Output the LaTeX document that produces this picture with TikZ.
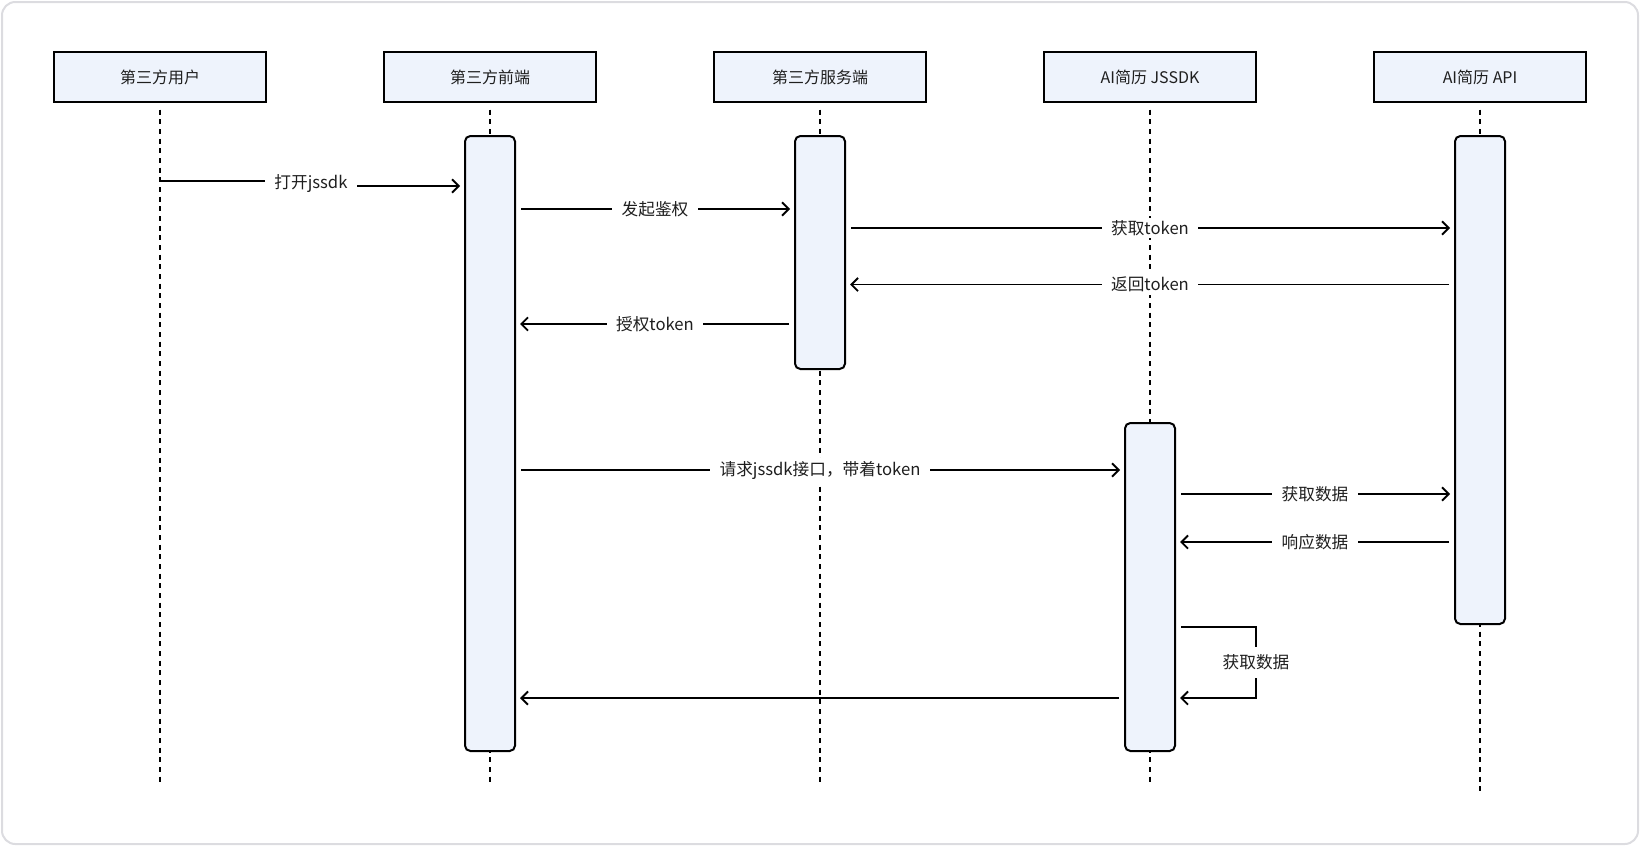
\documentclass[tikz,border=0pt]{standalone}
\usepackage{fontspec}
\setmainfont{Noto Sans CJK SC}
\usetikzlibrary{arrows.meta,calc}
\definecolor{boxfill}{HTML}{EEF3FC}
\definecolor{framec}{HTML}{DCDCE0}
\definecolor{txt}{HTML}{1F1F1F}
\begin{document}
\begin{tikzpicture}[x=0.75pt,y=-0.75pt,
  head/.style={draw=black, line width=1.5pt, fill=boxfill, minimum width=159pt, minimum height=37.5pt, inner sep=0pt, font=\fontsize{12}{14}\selectfont, text=txt},
  bar/.style={draw=black, line width=1.5pt, fill=boxfill, rounded corners=4pt, minimum width=37.5pt, inner sep=0pt},
  life/.style={line width=1.5pt, dash pattern=on 3.75pt off 3.5pt, shorten <=5pt},
  msg/.style={line width=1.45pt, -{Straight Barb[length=5pt,width=10pt]}, shorten <=3.75pt, shorten >=3pt},
  lbl/.style={fill=white, inner xsep=7pt, inner ysep=2pt, font=\fontsize{12.5}{14}\selectfont, text=txt}
]
\useasboundingbox (0,0) rectangle (1640,846);
\draw[framec, line width=1.5pt, rounded corners=10pt] (2,2) rectangle (1638,844);

% headers
\node[head] (u1) at (160,77) {第三方用户};
\node[head] (u2) at (490,77) {第三方前端};
\node[head] (u3) at (820,77) {第三方服务端};
\node[head] (u4) at (1150,77) {AI简历 JSSDK};
\node[head] (u5) at (1480,77) {AI简历 API};

% lifeline ends
\coordinate (e1) at (160,783);
\coordinate (e2) at (490,783);
\coordinate (e3) at (820,783);
\coordinate (e4) at (1150,783);
\coordinate (e5) at (1480,792);
\foreach \i in {1,...,5} {\draw[life] (u\i.south) -- (e\i);}

% activation bars
\node[bar, minimum height=461.25pt] (b2) at (490,443.5) {};
\node[bar, minimum height=174.75pt] (b3) at (820,252.5) {};
\node[bar, minimum height=246pt] (b4) at (1150,587) {};
\node[bar, minimum height=366pt] (b5) at (1480,380) {};

% y levels
\coordinate (y1a) at (0,181);
\coordinate (y1b) at (0,186);
\coordinate (y2) at (0,209);
\coordinate (y3) at (0,228);
\coordinate (y4) at (0,284.5);
\coordinate (y5) at (0,324);
\coordinate (y6) at (0,470);
\coordinate (y7) at (0,494);
\coordinate (y8) at (0,542);
\coordinate (y9) at (0,627);
\coordinate (y10) at (0,698);
\coordinate (loopx) at (1256,0);

% message 1 (with small step hidden behind label)
\draw[msg, shorten <=0pt] (u1.south |- y1a) -- (311,181) -- (311,186) -- (b2.west |- y1b);
\node[lbl] (l1) at (311,184) {打开jssdk};

\draw[msg] (b2.east |- y2) -- node[lbl] {发起鉴权} (b3.west |- y2);
\draw[msg] (b3.east |- y3) -- node[lbl] {获取token} (b5.west |- y3);
\draw[msg] (b5.west |- y4) -- node[lbl] {返回token} (b3.east |- y4);
\draw[msg] (b3.west |- y5) -- node[lbl] {授权token} (b2.east |- y5);
\draw[msg] (b2.east |- y6) -- node[lbl] {请求jssdk接口，带着token} (b4.west |- y6);
\draw[msg] (b4.east |- y7) -- node[lbl] {获取数据} (b5.west |- y7);
\draw[msg] (b5.west |- y8) -- node[lbl] {响应数据} (b4.east |- y8);
\draw[msg] (b4.east |- y9) -- (loopx |- y9) -- node[lbl, inner xsep=2pt, inner ysep=6pt] {获取数据} (loopx |- y10) -- (b4.east |- y10);
\draw[msg] (b4.west |- y10) -- (b2.east |- y10);
\end{tikzpicture}
\end{document}
